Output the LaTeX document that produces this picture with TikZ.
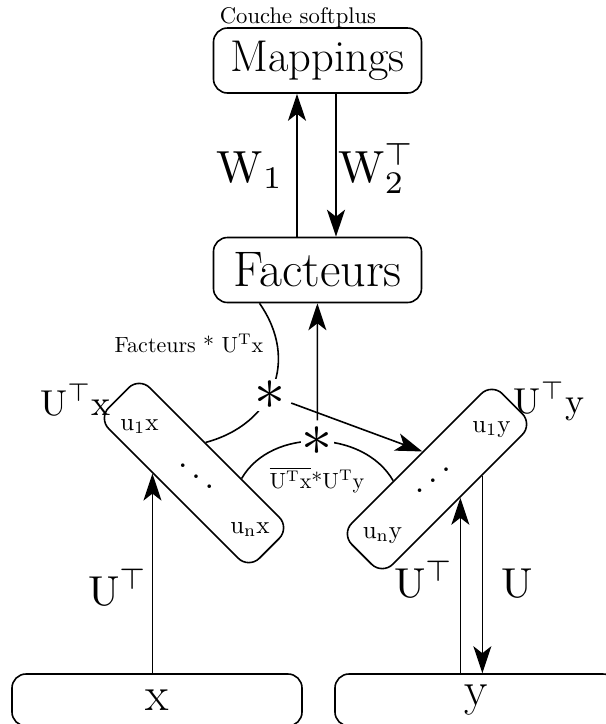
\documentclass[tikz,border=0pt]{standalone}
\usepackage{amsmath}
\usetikzlibrary{arrows.meta,calc}

\begin{document}
\begin{tikzpicture}[x=1pt, y=1pt, line width=1.6pt,
    >={Stealth[length=27pt, width=18pt, inset=7pt]},
    block/.style={draw, rounded corners=14pt, minimum width=208pt, minimum height=65pt, inner sep=0pt},
    band/.style={draw, rounded corners=15pt, minimum width=213pt, minimum height=58pt, inner sep=0pt},
    inbox/.style={draw, rounded corners=14pt, minimum height=52pt, inner sep=0pt, font=\fontsize{48}{52}\selectfont},
    arrowlab/.style={scale=4.5, anchor=base},
    sidelab/.style={scale=3.6, anchor=base},
    bandlab/.style={scale=2.5, anchor=base},
    notelab/.style={scale=2.2, anchor=base},
    starnode/.style={fill=white, inner sep=0.2pt, scale=6.2}]
        \useasboundingbox (0,0) rectangle (606,-724);

        % Top: mappings and factors
        \node[notelab, scale=1.03] (soft) at (298,-23) {Couche softplus};
        \node[block, font=\fontsize{44.5}{48}\selectfont] (map) at (317.5,-60.5) {Mappings};
        \node[block, font=\fontsize{50}{54}\selectfont] (fact) at (317.5,-270) {Facteurs};
        \draw[->] ([xshift=-20.5pt]fact.north) -- ([xshift=-20.5pt]map.south);
        \draw[->] ([xshift=18.5pt]map.south) -- ([xshift=18.5pt]fact.north);
        \node[arrowlab] (w1) at (250,-182) {W$_1$};
        \node[arrowlab] (w2) at (377,-182) {W$_2^\top$};

        % Middle: the two projections
        \node[band, rotate=-45] (ux) at (194,-473) {};
        \node[band, rotate=45] (uy) at (437,-479) {};
        \node[sidelab] (uxlab) at (75.5,-415) {U$^\top$x};
        \node[sidelab] (uylab) at (549,-413) {U$^\top$y};
        \node[bandlab] (u1x) at (139.5,-430) {u$_1$x};
        \node[bandlab] (unx) at (250,-533) {u$_\mathrm{n}$x};
        \node[bandlab] (u1y) at (491.5,-432) {u$_1$y};
        \node[bandlab] (uny) at (382.5,-538) {u$_\mathrm{n}$y};
        \node[scale=3.4] (xdots) at (196,-466) {$\ddots$};
        \node[scale=3.4, xscale=-1] (ydots) at (433,-470) {$\ddots$};
        \coordinate (xa) at ($(ux.north)!0.125!(ux.north west)$);
        \coordinate (xb) at ($(ux.north)!0.35!(ux.north east)$);
        \coordinate (xc) at ($(ux.south)!0.27!(ux.south west)$);
        \coordinate (ya) at ($(uy.north)!0.085!(uy.north east)$);
        \coordinate (yb) at ($(uy.north)!0.3!(uy.north west)$);
        \coordinate (yc) at ($(uy.south)!0.03!(uy.south east)$);
        \coordinate (yd) at ($(uy.south)!0.32!(uy.south east)$);

        % Products
        \draw ([xshift=-58pt]fact.south) to[out=-55, in=15, looseness=1.2] node[starnode, pos=0.55] (s1) {$\ast$} (xa);
        \node[notelab] (prod1) at (189,-352) {Facteurs * U$^\mathrm{T}$x};
        \draw[->] (s1) -- (ya);
        \draw (xb) to[out=60, in=120] node[starnode, pos=0.5] (s2) {$\ast$} (yb);
        \draw[->] (s2) -- (s2 |- fact.south);
        \node[notelab] (prod2) at (317,-488) {$\overline{\mathrm{U^Tx}}$*U$^\mathrm{T}$y};

        % Bottom: inputs
        \node[inbox, minimum width=290pt] (xin) at (157,-700) {x};
        \node[inbox, minimum width=282pt] (yin) at (476,-700) {y};
        \draw[->] (xin.north -| xc) -- (xc);
        \draw[->] (yin.north -| yc) -- (yc);
        \draw[->] (yd) -- (yd |- yin.north);
        \node[arrowlab, scale=0.93] (ul) at (118,-605) {U$^\top$};
        \node[arrowlab, scale=0.93] (ur1) at (424,-597) {U$^\top$};
        \node[arrowlab, scale=0.93] (ur2) at (517.5,-597) {U};
\end{tikzpicture}
\end{document}
